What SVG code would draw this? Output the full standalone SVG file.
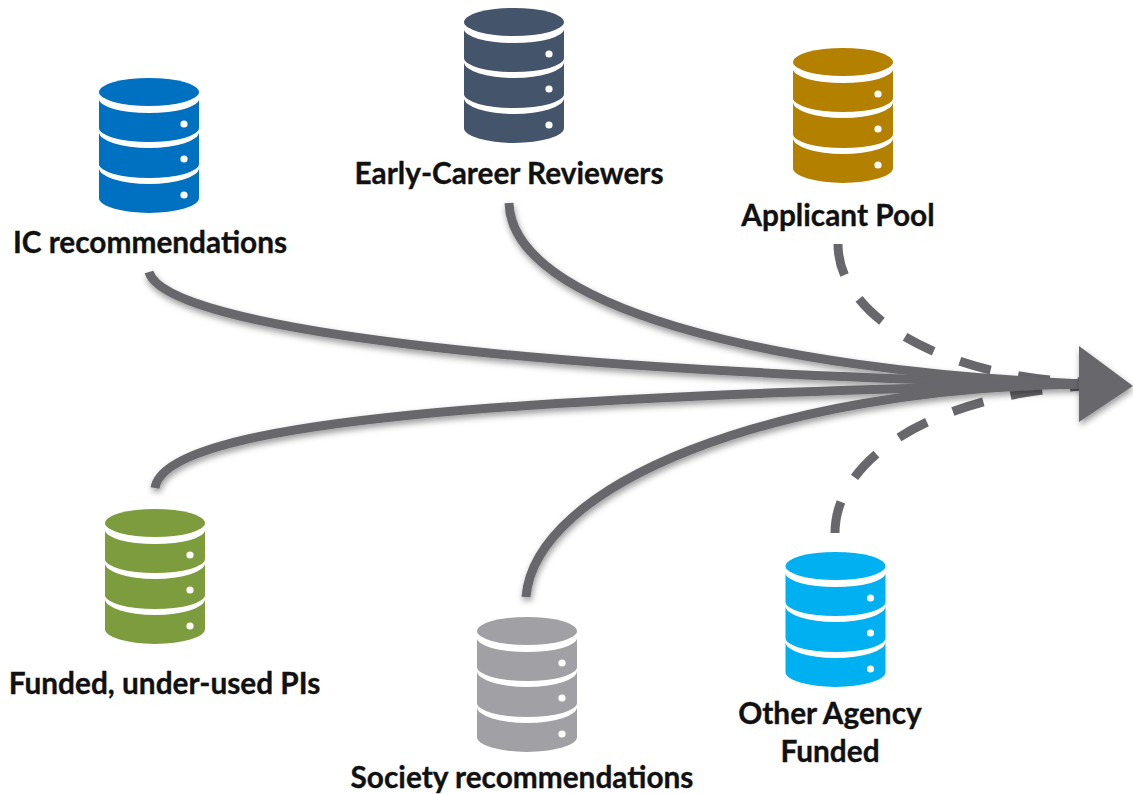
<svg xmlns="http://www.w3.org/2000/svg" width="1133" height="794" viewBox="0 0 1133 794">
<style>
text{font-family:"Lato","Liberation Sans",sans-serif;font-weight:700;font-size:29.8px;fill:#111;stroke:#111;stroke-width:.35px;text-anchor:middle}
.l{fill:none;stroke:#68676c;stroke-width:9}
.d{stroke-dasharray:32 28}
.w{fill:#fff}
</style>
<defs>
<filter id="s" x="-10%" y="-10%" width="120%" height="130%"><feDropShadow dx="1" dy="3.500" stdDeviation="3" flood-color="#000" flood-opacity="0.4"/></filter>
<g id="db">
<ellipse cx="50" cy="14" rx="50" ry="14"/>
<path d="M0 21A50 14 0 0 0 100 21V50A50 14 0 0 1 0 50Z"/>
<path d="M0 54A50 16 0 0 0 100 54V86A50 14 0 0 1 0 86Z"/>
<path d="M0 90A50 16 0 0 0 100 90V120A50 15 0 0 1 0 120Z"/>
<circle class="w" cx="85" cy="46" r="3.6"/><circle class="w" cx="85" cy="81" r="3.6"/><circle class="w" cx="85" cy="117" r="3.6"/>
</g>
</defs>
<g id="connectors">
<path class="l d" d="M838 244C838 320 950 378 1082 382"/>
<path class="l d" d="M835 533C835 460 930 396 1082 386"/>
<g filter="url(#s)">
<path class="l" d="M149 272C165 328 520 372 1082 384"/>
<path class="l" d="M509 203C512 305 760 370 1082 384"/>
<path class="l" d="M155 488C165 420 520 396 1082 384"/>
<path class="l" d="M526 597C535 485 770 388 1082 384"/>
</g>
<path fill="#68676c" filter="url(#s)" d="M1079 346L1133 386L1079 422Z"/>
</g>
<g id="ic"><use href="#db" x="99" y="78" fill="#0070c0"/><text x="150" y="253">IC recommendations</text></g>
<g id="early"><use href="#db" x="464" y="8" fill="#44546a"/><text x="509" y="184">Early-Career Reviewers</text></g>
<g id="applicant"><use href="#db" x="793" y="48" fill="#b38000"/><text x="838" y="226">Applicant Pool</text></g>
<g id="funded"><use href="#db" x="105" y="509" fill="#7c9c3e"/><text x="164.500" y="694">Funded, under-used PIs</text></g>
<g id="society"><use href="#db" x="477" y="617" fill="#a0a0a5"/><text x="522" y="788">Society recommendations</text></g>
<g id="other"><use href="#db" x="785.500" y="552" fill="#00b0f0"/><text x="830" y="724">Other Agency</text><text x="830" y="762">Funded</text></g>
</svg>
